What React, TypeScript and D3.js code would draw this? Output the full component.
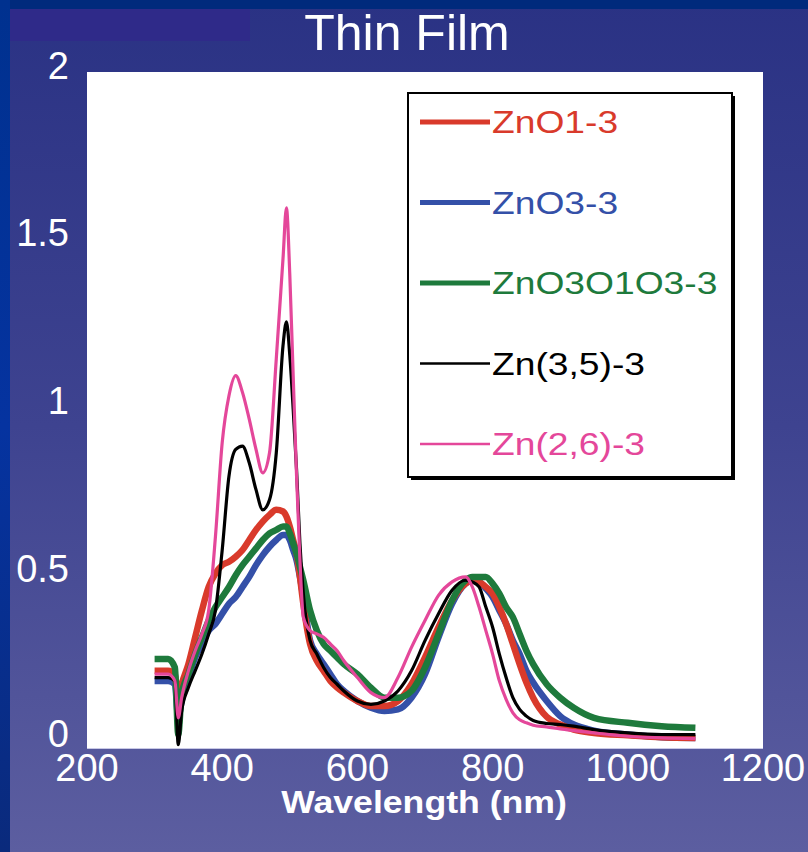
import React from "react";
import * as d3 from "d3";

const wavelengths = [300, 320, 330, 335, 340, 350, 360, 370, 380, 390, 400, 410, 420, 430, 440, 450, 460, 470, 480, 490, 495, 500, 505, 510, 515, 520, 530, 540, 550, 560, 570, 580, 600, 620, 640, 660, 680, 700, 720, 740, 760, 770, 780, 790, 800, 810, 820, 830, 840, 850, 860, 880, 900, 920, 950, 1000, 1050, 1100];

const zno1 = [0.22, 0.22, 0.21, 0.14, 0.18, 0.24, 0.32, 0.40, 0.47, 0.51, 0.535, 0.545, 0.56, 0.58, 0.61, 0.64, 0.665, 0.685, 0.70, 0.695, 0.68, 0.65, 0.61, 0.57, 0.50, 0.42, 0.30, 0.25, 0.22, 0.19, 0.17, 0.155, 0.13, 0.115, 0.115, 0.13, 0.18, 0.26, 0.35, 0.43, 0.48, 0.49, 0.485, 0.47, 0.45, 0.41, 0.36, 0.30, 0.24, 0.185, 0.14, 0.083, 0.06, 0.045, 0.035, 0.028, 0.022, 0.02];

const zno3 = [0.19, 0.19, 0.18, 0.08, 0.13, 0.20, 0.26, 0.30, 0.34, 0.36, 0.39, 0.42, 0.44, 0.47, 0.50, 0.535, 0.565, 0.59, 0.61, 0.625, 0.625, 0.61, 0.58, 0.55, 0.50, 0.44, 0.31, 0.27, 0.24, 0.21, 0.18, 0.16, 0.13, 0.11, 0.10, 0.105, 0.14, 0.21, 0.32, 0.42, 0.48, 0.49, 0.485, 0.465, 0.44, 0.40, 0.36, 0.31, 0.27, 0.22, 0.185, 0.13, 0.085, 0.06, 0.042, 0.03, 0.022, 0.02];

const zno313 = [0.255, 0.255, 0.23, 0.03, 0.15, 0.21, 0.27, 0.32, 0.37, 0.41, 0.44, 0.47, 0.505, 0.535, 0.56, 0.585, 0.61, 0.63, 0.64, 0.65, 0.65, 0.63, 0.60, 0.57, 0.53, 0.49, 0.40, 0.34, 0.30, 0.28, 0.26, 0.24, 0.21, 0.17, 0.14, 0.14, 0.16, 0.23, 0.33, 0.43, 0.49, 0.50, 0.50, 0.50, 0.48, 0.45, 0.41, 0.38, 0.33, 0.28, 0.24, 0.18, 0.14, 0.11, 0.08, 0.065, 0.055, 0.05];

const zn35 = [0.20, 0.20, 0.19, 0.0, 0.10, 0.17, 0.22, 0.27, 0.33, 0.40, 0.58, 0.80, 0.88, 0.89, 0.84, 0.76, 0.70, 0.73, 0.87, 1.19, 1.26, 1.16, 1.0, 0.82, 0.60, 0.45, 0.31, 0.27, 0.23, 0.20, 0.18, 0.16, 0.13, 0.12, 0.13, 0.16, 0.22, 0.31, 0.39, 0.46, 0.49, 0.485, 0.47, 0.41, 0.35, 0.27, 0.20, 0.14, 0.105, 0.085, 0.072, 0.063, 0.06, 0.055, 0.045, 0.035, 0.03, 0.03];

const zn26 = [0.21, 0.21, 0.19, 0.08, 0.14, 0.22, 0.28, 0.33, 0.40, 0.62, 0.90, 1.04, 1.10, 1.05, 0.97, 0.88, 0.81, 0.87, 1.15, 1.45, 1.60, 1.40, 1.10, 0.80, 0.55, 0.38, 0.34, 0.33, 0.32, 0.30, 0.28, 0.25, 0.20, 0.155, 0.14, 0.20, 0.29, 0.37, 0.445, 0.485, 0.50, 0.47, 0.41, 0.34, 0.27, 0.19, 0.135, 0.095, 0.074, 0.065, 0.058, 0.053, 0.047, 0.042, 0.035, 0.025, 0.02, 0.018];

const seriesNames = ["ZnO1-3", "ZnO3-3", "ZnO3O1O3-3", "Zn(3,5)-3", "Zn(2,6)-3"];
const seriesValues = [zno1, zno3, zno313, zn35, zn26];
const seriesColors = ["#d93a2b", "#3450a8", "#1e7a3c", "#000000", "#e4479a"];
const seriesWidths = [6.5, 6.5, 6.5, 3.2, 3.2];
const legendWidths = [5, 5, 5, 2.5, 2.5];
const drawOrder = [1, 0, 2, 3, 4];

const xTicks = [200, 400, 600, 800, 1000, 1200];
const yTicks = [0, 0.5, 1, 1.5, 2];
const yTickLabels = ["0", "0.5", "1", "1.5", "2"];

const W = 808;
const H = 852;
const plot = { left: 87, right: 763, top: 72, bottom: 748 };

export default function App() {
  const x = d3.scaleLinear().domain([200, 1200]).range([plot.left, plot.right]);
  const y = d3.scaleLinear().domain([-0.01, 2.005]).range([plot.bottom, plot.top]);
  const line = d3
    .line<number>()
    .x((_, i) => x(wavelengths[i]))
    .y((d) => y(d))
    .curve(d3.curveMonotoneX);

  const legendX = 408;
  const legendY = 93;
  const legendW = 324;
  const legendH = 384;
  const rowY = (i: number) => 122 + i * 80.5;

  return (
    <svg
      width={W}
      height={H}
      style={{ position: "absolute", left: 0, top: 0, display: "block" }}
      fontFamily="'Liberation Sans', Arial, Helvetica, sans-serif"
    >
      <defs>
        <linearGradient id="bg" x1="0" y1="0" x2="0" y2="1">
          <stop offset="0%" stopColor="#2a3284" />
          <stop offset="50%" stopColor="#3e4390" />
          <stop offset="100%" stopColor="#5c5ea0" />
        </linearGradient>
        <linearGradient id="strip" x1="0" y1="0" x2="0" y2="1">
          <stop offset="0%" stopColor="#00318f" />
          <stop offset="50%" stopColor="#0533a0" />
          <stop offset="100%" stopColor="#0a2a7c" />
        </linearGradient>
      </defs>
      <rect x={0} y={0} width={W} height={H} fill="url(#bg)" />
      <rect x={10} y={9} width={240} height={32} fill="#2f2a89" />
      <rect x={0} y={0} width={W} height={9} fill="#002a7c" />
      <rect x={0} y={0} width={10} height={H} fill="url(#strip)" />

      <text x={407} y={50} fill="#ffffff" fontSize={50} textAnchor="middle">
        Thin Film
      </text>

      <rect
        x={plot.left}
        y={plot.top}
        width={plot.right - plot.left}
        height={plot.bottom - plot.top}
        fill="#ffffff"
      />
      <line x1={plot.left} x2={plot.right} y1={plot.bottom + 0.5} y2={plot.bottom + 0.5} stroke="#c9c9e6" strokeWidth={1} />

      {drawOrder.map((k) => (
        <path
          key={seriesNames[k]}
          d={line(seriesValues[k]) || ""}
          fill="none"
          stroke={seriesColors[k]}
          strokeWidth={seriesWidths[k]}
          strokeLinejoin="round"
          strokeLinecap="butt"
        />
      ))}

      {yTicks.map((t, i) => (
        <text key={t} x={69} y={y(t) + (t === 0 ? 2 : 5)} fill="#ffffff" fontSize={38} textAnchor="end">
          {yTickLabels[i]}
        </text>
      ))}
      {xTicks.map((t) => (
        <text key={t} x={x(t)} y={781} fill="#ffffff" fontSize={38} textAnchor="middle">
          {t}
        </text>
      ))}
      <g transform="translate(424,813) scale(1.15,1)">
        <text x={0} y={0} fill="#ffffff" fontSize={31} fontWeight="bold" textAnchor="middle">
          Wavelength (nm)
        </text>
      </g>

      <rect x={legendX + 3} y={legendY + 3} width={legendW} height={legendH} fill="#000000" />
      <rect
        x={legendX}
        y={legendY}
        width={legendW}
        height={legendH}
        fill="#ffffff"
        stroke="#000000"
        strokeWidth={2}
      />
      {seriesNames.map((name, i) => (
        <g key={name}>
          <line
            x1={420}
            x2={490}
            y1={rowY(i)}
            y2={rowY(i)}
            stroke={seriesColors[i]}
            strokeWidth={legendWidths[i]}
          />
          <g transform={`translate(492,${rowY(i) + 11}) scale(1.2,1)`}>
            <text x={0} y={0} fill={seriesColors[i]} fontSize={31}>
              {name}
            </text>
          </g>
        </g>
      ))}
    </svg>
  );
}
